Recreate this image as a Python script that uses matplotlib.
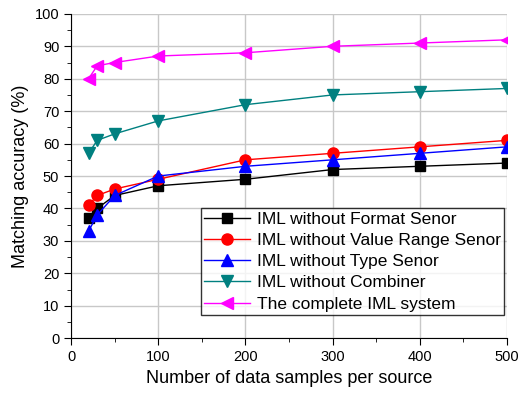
import numpy as np
import matplotlib
matplotlib.use('Agg')
import matplotlib.pyplot as plt
from matplotlib.ticker import MultipleLocator

plt.rcParams['font.family'] = ['Liberation Sans', 'DejaVu Sans']

samples = [20, 30, 50, 100, 200, 300, 400, 500]

no_format = [37, 40, 44, 47, 49, 52, 53, 54]
no_value_range = [41, 44, 46, 49, 55, 57, 59, 61]
no_type = [33, 38, 44, 50, 53, 55, 57, 59]
no_combiner = [57, 61, 63, 67, 72, 75, 76, 77]
complete = [80, 84, 85, 87, 88, 90, 91, 92]

labels = ['IML without Format Senor', 'IML without Value Range Senor',
          'IML without Type Senor', 'IML without Combiner',
          'The complete IML system']

fig = plt.figure(figsize=(5.19, 3.96), dpi=100)
ax = fig.add_axes([0.137, 0.146, 0.840, 0.819])

ax.plot(samples, no_format, '-s', color='black', mfc='black', ms=7, lw=1, label=labels[0])
ax.plot(samples, no_value_range, '-o', color='red', mfc='red', ms=8, lw=1, label=labels[1])
ax.plot(samples, no_type, '-^', color='blue', mfc='blue', ms=8, lw=1, label=labels[2])
ax.plot(samples, no_combiner, '-v', color='#008080', mfc='#008080', ms=8, lw=1, label=labels[3])
ax.plot(samples, complete, '-<', color='magenta', mfc='magenta', ms=8, lw=1, label=labels[4])

ax.set_xlim(0, 500)
ax.set_ylim(0, 100)
ax.xaxis.set_major_locator(MultipleLocator(100))
ax.xaxis.set_minor_locator(MultipleLocator(50))
ax.yaxis.set_major_locator(MultipleLocator(10))
ax.yaxis.set_minor_locator(MultipleLocator(5))
ax.grid(True, which='major', color='#c8c8c8', lw=1)
ax.set_axisbelow(True)
ax.tick_params(axis='both', which='major', labelsize=10.5, length=5, direction='out')
ax.tick_params(axis='both', which='minor', length=3, direction='out')
for s in ['top', 'right']:
    ax.spines[s].set_visible(False)

ax.set_xlabel('Number of data samples per source', fontsize=13)
ax.set_ylabel('Matching accuracy (%)', fontsize=13)

leg = ax.legend(loc='lower right', fontsize=12.5, frameon=True, fancybox=False,
                edgecolor='black', handlelength=2.6, handletextpad=0.4,
                borderpad=0.2, borderaxespad=0,
                labelspacing=0.35, bbox_to_anchor=(0.993, 0.071))
leg.get_frame().set_linewidth(1)

plt.savefig('out.png', dpi=100)
